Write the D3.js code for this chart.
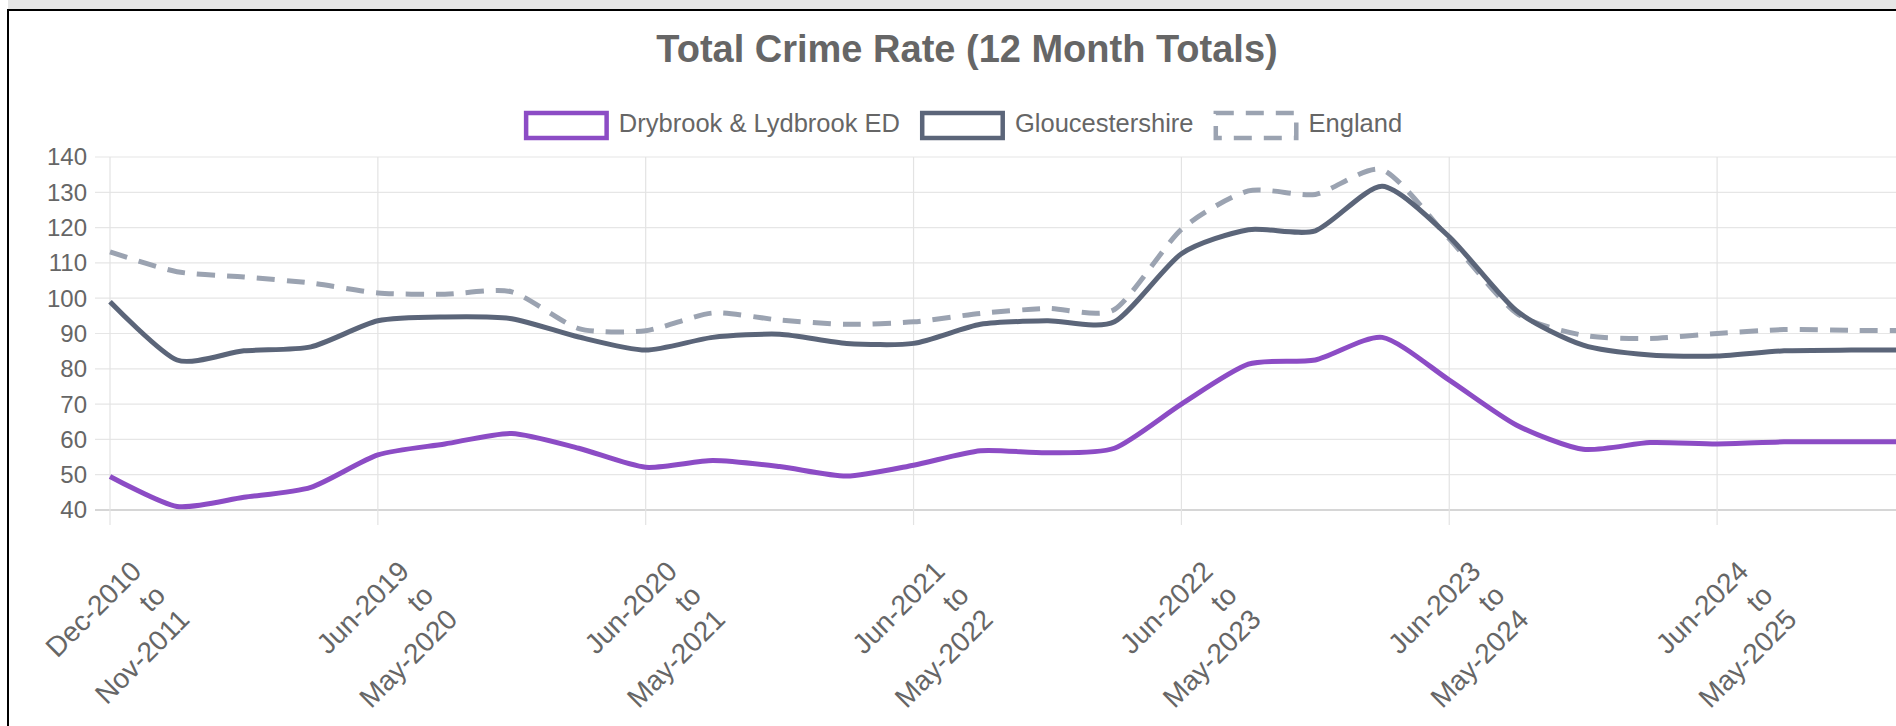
<!DOCTYPE html>
<html>
<head>
<meta charset="utf-8">
<script src="https://cdn.jsdelivr.net/npm/d3@7/dist/d3.min.js"></script>
<style>
  body { margin: 0; background: #fff; overflow: hidden; }
  svg { display: block; font-family: "Liberation Sans", Arial, Helvetica, sans-serif; }
</style>
</head>
<body>
<svg id="chart"></svg>
<script>
// 12 month periods, quarterly steps
var periods = [
  "Dec-2010 to Nov-2011", "Sep-2018 to Aug-2019", "Dec-2018 to Nov-2019", "Mar-2019 to Feb-2020",
  "Jun-2019 to May-2020", "Sep-2019 to Aug-2020", "Dec-2019 to Nov-2020", "Mar-2020 to Feb-2021",
  "Jun-2020 to May-2021", "Sep-2020 to Aug-2021", "Dec-2020 to Nov-2021", "Mar-2021 to Feb-2022",
  "Jun-2021 to May-2022", "Sep-2021 to Aug-2022", "Dec-2021 to Nov-2022", "Mar-2022 to Feb-2023",
  "Jun-2022 to May-2023", "Sep-2022 to Aug-2023", "Dec-2022 to Nov-2023", "Mar-2023 to Feb-2024",
  "Jun-2023 to May-2024", "Sep-2023 to Aug-2024", "Dec-2023 to Nov-2024", "Mar-2024 to Feb-2025",
  "Jun-2024 to May-2025", "Sep-2024 to Aug-2025", "Dec-2024 to Nov-2025", "Mar-2025 to Feb-2026"
]

var drybrook = [49.5, 41, 43.6, 46.4, 55.6, 58.7, 61.7, 57.5, 52.1, 54, 52.3, 49.6, 52.7, 56.8, 56.2, 57.5,
                70, 81.3, 82.5, 88.9, 76.8, 64.1, 57.2, 59.1, 58.7, 59.3, 59.3, 59.3]
var gloucestershire = [99, 82.5, 85.1, 86.2, 93.6, 94.7, 94.2, 89, 85.3, 88.9, 89.8, 87.2, 87.2, 92.6, 93.6, 93.3,
                       112.6, 119.4, 119.1, 131.7, 117.4, 96.5, 86.7, 83.9, 83.6, 85.1, 85.3, 85.3]
var england = [113.1, 107.5, 106, 104.3, 101.5, 101.1, 101.8, 91.4, 90.8, 95.8, 93.8, 92.6, 93.3, 95.7, 97.1, 96.8,
               119.5, 130.4, 129.4, 136.4, 116.8, 95.8, 89.5, 88.6, 90, 91.1, 90.9, 90.8]

var seriesNames = ["Drybrook & Lydbrook ED", "Gloucestershire", "England"]
var yTicks = [40, 50, 60, 70, 80, 90, 100, 110, 120, 130, 140]

var colors = {
  "Drybrook & Lydbrook ED": "#8c4cc5",
  "Gloucestershire": "#5b6579",
  "England": "#9ba3b1"
}

var width = 1896
var height = 726

var dimensions = {
  left: 110,
  right: 1918,
  top: 157,
  bottom: 510
}

var svg = d3.select("#chart")
  .attr("width", width)
  .attr("height", height)

// page frame
svg.append("rect")
  .attr("x", 8).attr("y", 0)
  .attr("width", width).attr("height", 9)
  .attr("fill", "#e6e6e6")

svg.append("rect")
  .attr("x", 8).attr("y", 10)
  .attr("width", 2000).attr("height", 900)
  .attr("fill", "#fff")
  .attr("stroke", "#000")
  .attr("stroke-width", 2)

var xScale = d3.scalePoint()
  .domain(periods)
  .range([dimensions.left, dimensions.right])

var yScale = d3.scaleLinear()
  .domain([40, 140])
  .range([dimensions.bottom, dimensions.top])

// only every 4th label gets shown
var shownPeriods = periods.filter((d, i) => i % 4 == 0)

// grid
svg.append("g")
  .selectAll("line")
  .data(yTicks)
  .enter().append("line")
  .attr("x1", dimensions.left - 15)
  .attr("x2", width)
  .attr("y1", d => yScale(d))
  .attr("y2", d => yScale(d))
  .attr("stroke", d => d == 40 ? "#d6d6d6" : "#e6e6e6")
  .attr("stroke-width", d => d == 40 ? 2 : 1.2)

svg.append("g")
  .selectAll("line")
  .data(shownPeriods)
  .enter().append("line")
  .attr("x1", d => xScale(d))
  .attr("x2", d => xScale(d))
  .attr("y1", dimensions.top)
  .attr("y2", dimensions.bottom + 15)
  .attr("stroke", "#e3e3e3")
  .attr("stroke-width", 1.2)

// y labels
svg.append("g")
  .selectAll("text")
  .data(yTicks)
  .enter().append("text")
  .attr("x", 87)
  .attr("y", d => yScale(d))
  .attr("dy", "0.35em")
  .attr("text-anchor", "end")
  .attr("font-size", 24)
  .attr("fill", "#666")
  .text(d => d)

// x labels, rotated, three lines each
var xLabels = svg.append("g")
  .selectAll("g")
  .data(shownPeriods)
  .enter().append("g")
  .attr("transform", d => `translate(${xScale(d) + 33},573) rotate(-45)`)

xLabels.selectAll("text")
  .data(d => { var p = d.split(" to "); return [p[0], "to", p[1]] })
  .enter().append("text")
  .attr("x", 0)
  .attr("y", (d, i) => i * 34)
  .attr("text-anchor", "end")
  .attr("font-size", 28)
  .attr("fill", "#666")
  .text(d => d)

// lines
var seriesData = [
  { name: "England", values: england, dash: "18,12" },
  { name: "Gloucestershire", values: gloucestershire, dash: null },
  { name: "Drybrook & Lydbrook ED", values: drybrook, dash: null }
]

var lineGen = d3.line()
  .x((d, i) => xScale(periods[i]))
  .y(d => yScale(d))
  .curve(d3.curveCardinal.tension(0.3))

svg.append("g")
  .selectAll("path")
  .data(seriesData)
  .enter().append("path")
  .attr("d", d => lineGen(d.values))
  .attr("fill", "none")
  .attr("stroke", d => colors[d.name])
  .attr("stroke-width", 5)
  .attr("stroke-dasharray", d => d.dash)

// title
svg.append("text")
  .attr("x", 967)
  .attr("y", 62)
  .attr("text-anchor", "middle")
  .attr("font-size", 38)
  .attr("font-weight", "bold")
  .attr("fill", "#666")
  .text("Total Crime Rate (12 Month Totals)")

// legend
var legend = svg.append("g")
var items = legend.selectAll("g")
  .data(seriesNames)
  .enter().append("g")

items.append("rect")
  .attr("width", 80.5)
  .attr("height", 25)
  .attr("y", 113)
  .attr("x", 2.25)
  .attr("fill", "#fff")
  .attr("stroke", d => colors[d])
  .attr("stroke-width", 4.5)
  .attr("stroke-dasharray", d => d == "England" ? "18,12" : null)

items.append("text")
  .attr("x", 95)
  .attr("y", 132)
  .attr("font-size", 25.5)
  .attr("fill", "#666")
  .text(d => d)

var itemWidths = []
items.each(function() {
  itemWidths.push(95 + d3.select(this).select("text").node().getComputedTextLength())
})
var total = d3.sum(itemWidths) + 20 * (itemWidths.length - 1)
var startX = 963 - total / 2
items.attr("transform", (d, i) => {
  var offset = startX + d3.sum(itemWidths.slice(0, i)) + 20 * i
  return `translate(${offset},0)`
})
</script>
</body>
</html>
